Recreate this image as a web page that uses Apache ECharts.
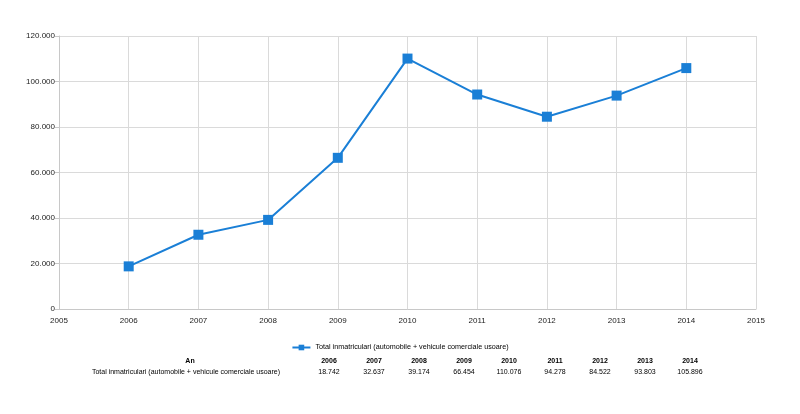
<!DOCTYPE html>
<html><head><meta charset="utf-8">
<script src="https://cdn.jsdelivr.net/npm/echarts@6/dist/echarts.min.js"></script>
<style>html,body{margin:0;padding:0;background:#fff}#c{width:800px;height:414px}</style>
</head><body><div id="c"></div>
<script>
const years = [2006, 2007, 2008, 2009, 2010, 2011, 2012, 2013, 2014];
const totals = [18742, 32637, 39174, 66454, 110076, 94278, 84522, 93803, 105896];
const seriesName = 'Total inmatriculari (automobile + vehicule comerciale usoare)';
const tableHeader = 'An';
const tableColX = [329, 374, 419, 464, 509, 555, 600, 645, 690];

const fmt = v => v === 0 ? '0' : String(v).replace(/\B(?=(\d{3})+(?!\d))/g, '.');
const font = 'Liberation Sans, Arial, sans-serif';
const chart = echarts.init(document.getElementById('c'), null, {renderer: 'canvas'});

const graphics = [
  {type:'text', x: 190, y: 358, style:{text: tableHeader, font: 'bold 7px ' + font, fill:'#000', align:'center'}},
  {type:'text', x: 186, y: 369, style:{text: seriesName, font: '7px ' + font, fill:'#000', align:'center'}}
];
years.forEach((y, i) => {
  graphics.push({type:'text', x: tableColX[i], y: 358, style:{text: String(y), font:'bold 7px ' + font, fill:'#000', align:'center'}});
  graphics.push({type:'text', x: tableColX[i], y: 369, style:{text: fmt(totals[i]), font:'7px ' + font, fill:'#000', align:'center'}});
});

chart.setOption({
  animation: false,
  textStyle: {fontFamily: font},
  grid: {left: 59, right: 44, top: 36, bottom: 105},
  legend: {
    top: 339, left: 'center', itemWidth: 18, itemHeight: 7, itemGap: 0,
    textStyle: {fontSize: 7.2, color: '#000', fontFamily: font},
    data: [{name: seriesName}]
  },
  xAxis: {
    type: 'value', min: 2005, max: 2015, interval: 1,
    axisLine: {show: true, lineStyle: {color: '#c8c8c8'}},
    axisTick: {show: false},
    splitLine: {show: true, lineStyle: {color: '#dadada'}},
    axisLabel: {color: '#222', fontSize: 8, margin: 8, formatter: v => String(v)}
  },
  yAxis: {
    type: 'value', min: 0, max: 120000, interval: 20000,
    axisLine: {show: true, lineStyle: {color: '#c8c8c8'}},
    axisTick: {show: true, length: 4, lineStyle: {color: '#c8c8c8'}},
    splitLine: {show: true, lineStyle: {color: '#dadada'}},
    axisLabel: {color: '#222', fontSize: 8, margin: 4, formatter: v => fmt(v)}
  },
  series: [{
    name: seriesName, type: 'line',
    data: years.map((y, i) => [y, totals[i]]),
    symbol: 'rect', symbolSize: 10,
    lineStyle: {color: '#1a7fd6', width: 2},
    itemStyle: {color: '#1a7fd6'}
  }],
  graphic: graphics
});
</script></body></html>
